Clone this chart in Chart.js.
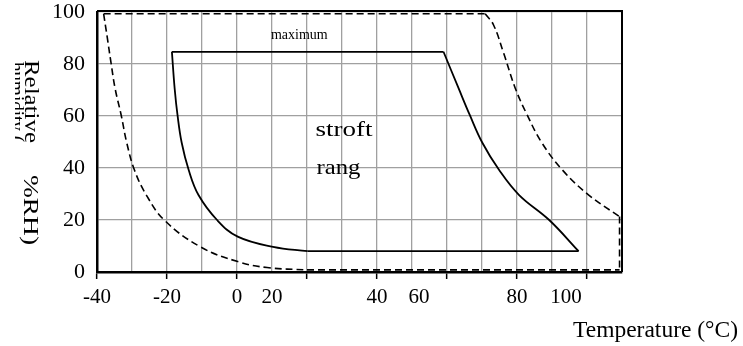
<!DOCTYPE html>
<html>
<head>
<meta charset="utf-8">
<script src="https://cdn.jsdelivr.net/npm/chart.js@4.4.1/dist/chart.umd.min.js"></script>
<style>
  html, body { margin: 0; padding: 0; background: #fff; }
  canvas { display: block; }
</style>
</head>
<body>
<canvas id="graph-viewer" width="743" height="346"></canvas>
<script>
// axis ranges / tick labels
const tempMin = -40;
const tempMax = 110;
const tempLabelValues = [-40, -20, 0, 10, 40, 52, 80, 94];
const tempLabels = ['-40', '-20', '0', '20', '40', '60', '80', '100'];
const rhMin = 0;
const rhMax = 100;
const rhLabelled = [0, 20, 40, 60, 80, 100];

// operating range (solid)
const rangeTopT = [-18.6, 59.0];
const rangeTopRH = [84.7, 84.7];
const rangeRightT = [59.0, 63.3, 66.5, 70.1, 74.9, 80.6, 89.2, 97.6];
const rangeRightRH = [84.7, 70.7, 60.4, 49.7, 39.2, 29.6, 20.0, 8.0];
const rangeBottomT = [97.6, 20.2];
const rangeBottomRH = [8.0, 8.0];
const rangeLeftT = [-18.6, -17.8, -17.0, -15.8, -13.8, -11.0, -5.7, 0.2, 10.3, 20.2];
const rangeLeftRH = [84.7, 70.4, 60.4, 49.7, 39.2, 29.6, 20.0, 13.6, 9.7, 8.0];

// limit range (dashed)
const limitTopT = [-38.1, 70.9];
const limitTopRH = [99.3, 99.3];
const limitLeftT = [-38.1, -37.1, -36.0, -34.8, -33.1, -31.5, -29.3, -25.9, -20.8, -10.5, 0.2, 8.6, 20.0];
const limitLeftRH = [99.3, 90.5, 80.5, 70.4, 60.4, 49.7, 39.2, 29.6, 20.0, 9.7, 4.0, 1.7, 0.8];
const limitBottomT = [20.0, 109.3];
const limitBottomRH = [0.8, 0.8];
const limitRightT = [70.9, 73.3, 76.2, 79.5, 82.9, 87.1, 93.0, 100.5, 109.3];
const limitRightRH = [99.3, 95.0, 84.1, 70.7, 60.4, 49.7, 39.2, 29.6, 21.3];
const limitEdgeT = [109.3, 109.3];
const limitEdgeRH = [21.3, 0.8];

const FONT = '"Liberation Serif", "Times New Roman", serif';

function pts(ts, rhs) {
    return ts.map((t, i) => ({ x: t, y: rhs[i] }));
}

function line(data, dashed, curved) {
    return {
        data: data,
        showLine: true,
        pointRadius: 0,
        borderColor: '#000',
        borderWidth: dashed ? 1.6 : 1.8,
        borderDash: dashed ? [7, 4] : [],
        tension: curved ? 0.4 : 0,
        fill: false
    };
}

// draws text scaled along its reading direction to a given width
function fitText(ctx, text, x, y, size, width, rotate) {
    ctx.save();
    ctx.font = size + 'px ' + FONT;
    ctx.textAlign = 'left';
    ctx.textBaseline = 'alphabetic';
    ctx.translate(x, y);
    if (rotate) ctx.rotate(Math.PI / 2);
    const w = ctx.measureText(text).width;
    ctx.scale(width / w, 1);
    ctx.fillText(text, 0, 0);
    ctx.restore();
}

const annotate = {
    id: 'annotate',
    afterDraw(chart) {
        const { ctx, chartArea: a, scales } = chart;
        const px = v => scales.x.getPixelForValue(v);
        const py = v => scales.y.getPixelForValue(v);
        ctx.save();
        ctx.fillStyle = '#000';

        // top and right frame
        ctx.strokeStyle = '#000';
        ctx.lineWidth = 2;
        ctx.beginPath();
        ctx.moveTo(a.left, a.top - 1);
        ctx.lineTo(a.right, a.top - 1);
        ctx.lineTo(a.right, a.bottom);
        ctx.stroke();

        // texts inside the plot
        ctx.font = '14px ' + FONT;
        ctx.textAlign = 'center';
        ctx.fillText('maximum', px(17.8), py(89.6));
        fitText(ctx, 'stroft', px(22.4), py(52.3), 21, 57, false);
        fitText(ctx, 'rang', px(22.7), py(37.6), 21, 44, false);

        // axis titles
        fitText(ctx, 'Temperature (°C)', 573, 336.5, 23, 165, false);
        fitText(ctx, 'Relative', 25, 60, 20, 83, true);
        fitText(ctx, '%RH)', 23.5, 175, 22, 70, true);
        ctx.save();
        ctx.beginPath();
        ctx.rect(15, 0, 10, 346);
        ctx.clip();
        fitText(ctx, 'humidity (', 10, 62, 20, 80, true);
        ctx.restore();

        ctx.restore();
    }
};

const ctx = document.getElementById('graph-viewer').getContext('2d');
new Chart(ctx, {
    type: 'scatter',
    data: {
        datasets: [
            line(pts(limitTopT, limitTopRH), true, false),
            line(pts(limitLeftT, limitLeftRH), true, true),
            line(pts(limitBottomT, limitBottomRH), true, false),
            line(pts(limitRightT, limitRightRH), true, true),
            line(pts(limitEdgeT, limitEdgeRH), true, false),
            line(pts(rangeTopT, rangeTopRH), false, false),
            line(pts(rangeRightT, rangeRightRH), false, true),
            line(pts(rangeBottomT, rangeBottomRH), false, false),
            line(pts(rangeLeftT, rangeLeftRH), false, true)
        ]
    },
    options: {
        responsive: false,
        animation: false,
        devicePixelRatio: 1,
        layout: { padding: { left: 0, top: 12, right: 121, bottom: 0 } },
        plugins: {
            legend: { display: false },
            tooltip: { enabled: false }
        },
        scales: {
            x: {
                type: 'linear',
                position: 'bottom',
                min: tempMin,
                max: tempMax,
                ticks: { stepSize: 10, display: false },
                grid: {
                    color: '#a0a0a0',
                    lineWidth: 1.3,
                    drawTicks: true,
                    tickLength: 7,
                    tickWidth: 1.5,
                    tickColor: c => (c.tick && c.tick.value % 20 === 0) ? '#000' : 'rgba(0,0,0,0)'
                },
                border: { display: true, color: '#000', width: 2.5 },
                afterFit: s => { s.height = 8; s.paddingLeft = 0; s.paddingRight = 0; }
            },
            xl: {
                type: 'linear',
                position: 'bottom',
                min: tempMin,
                max: tempMax,
                afterBuildTicks: s => { s.ticks = tempLabelValues.map(v => ({ value: v })); },
                ticks: {
                    autoSkip: false,
                    maxRotation: 0,
                    padding: 5,
                    color: '#000',
                    font: { family: FONT, size: 21 },
                    callback: v => {
                        const i = tempLabelValues.indexOf(v);
                        return i >= 0 ? tempLabels[i] : '';
                    }
                },
                grid: { display: false, drawTicks: false },
                border: { display: false },
                afterFit: s => { s.height = 66; s.paddingLeft = 0; s.paddingRight = 0; }
            },
            y: {
                type: 'linear',
                min: rhMin,
                max: rhMax,
                ticks: {
                    stepSize: 10,
                    padding: 12,
                    color: '#000',
                    font: { family: FONT, size: 22 },
                    callback: v => rhLabelled.includes(v) ? String(v) : ''
                },
                grid: { color: '#a0a0a0', lineWidth: 1.3, drawTicks: false },
                border: { display: true, color: '#000', width: 2.5 },
                afterFit: s => { s.width = 97; s.paddingTop = 0; s.paddingBottom = 0; }
            }
        }
    },
    plugins: [annotate]
});
</script>
</body>
</html>
